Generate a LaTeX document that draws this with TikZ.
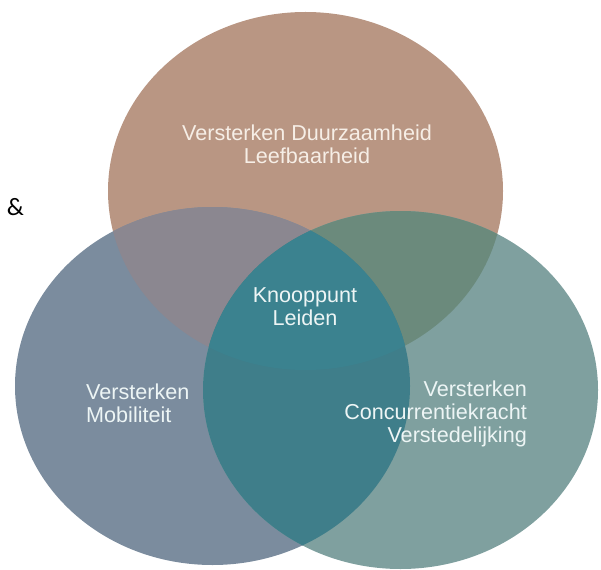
\documentclass[tikz,border=0pt]{standalone}
\usepackage{fontspec}
\setmainfont{Liberation Sans}
\newfontfamily\calibrifont{Carlito}
\usetikzlibrary{positioning}

\definecolor{topfill}{HTML}{B99683}
\definecolor{leftfill}{HTML}{7B8C9E}
\definecolor{rightfill}{HTML}{7FA09F}
\definecolor{topleftfill}{HTML}{8B8790}
\definecolor{toprightfill}{HTML}{6B8A7C}
\definecolor{leftrightfill}{HTML}{3F7E8A}
\definecolor{centerfill}{HTML}{3B828F}
\definecolor{warmtext}{HTML}{F6EEE6}
\definecolor{coldtext}{HTML}{EDF5F5}

\begin{document}
\begin{tikzpicture}[
    x=1pt, y=-1pt,
    setlabel/.style={text=coldtext, font=\fontsize{21.6}{23}\selectfont, inner sep=0pt},
]
\useasboundingbox (0,0) rectangle (601,569);

\def\topset{(305.5,191) ellipse [x radius=197.5, y radius=179]}
\def\leftset{(212.5,386) ellipse [x radius=197.5, y radius=179]}
\def\rightset{(400.5,390) ellipse [x radius=197.5, y radius=179]}

% the three sets
\fill[topfill] \topset;
\fill[leftfill] \leftset;
\fill[rightfill] \rightset;

% pairwise overlaps
\begin{scope}
    \clip \topset;
    \fill[topleftfill] \leftset;
    \fill[toprightfill] \rightset;
\end{scope}
\begin{scope}
    \clip \leftset;
    \fill[leftrightfill] \rightset;
    \clip \rightset;
    \fill[centerfill] \topset;
\end{scope}

\node[setlabel, text=warmtext, align=center] (duurzaam) at (307,144) {Versterken Duurzaamheid\\Leefbaarheid};
\node[setlabel, align=center] (knooppunt) at (305,307) {Knooppunt\\Leiden};
\node[setlabel, align=left, anchor=west] (mobiliteit) at (86,403) {Versterken\\Mobiliteit};
\node[setlabel, align=right, anchor=east] (concurrentie) at (527,414) {Versterken\\Concurrentiekracht\\Verstedelijking};

\node[font=\calibrifont\fontsize{25}{27}\selectfont, inner sep=0pt] (amp) at (15.5,207) {\&};
\end{tikzpicture}
\end{document}
